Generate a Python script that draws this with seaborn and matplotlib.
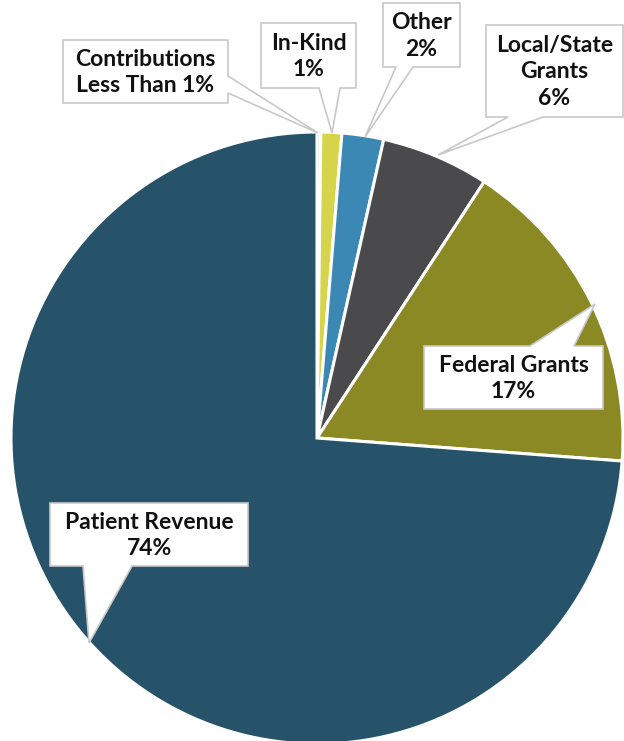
import matplotlib
matplotlib.use("Agg")
import matplotlib.pyplot as plt
import seaborn as sns
from matplotlib.patches import Polygon

categories = ["Contributions", "In-Kind", "Other", "Local/State\nGrants", "Federal Grants", "Patient Revenue"]
shares = [0.2, 1.1, 2.2, 5.7, 17.0, 73.8]
colors = ["#B9B9B9", "#D5D44A", "#3C88B5", "#4A4A4C", "#8B8923", "#27536A"]

sns.set_theme(style="white")
plt.rcParams["font.family"] = ["Lato", "DejaVu Sans"]

W, H = 624, 741
fig = plt.figure(figsize=(W / 100, H / 100), dpi=100)
ax = fig.add_axes([0, 0, 1, 1])


def fy(y):
    # image pixel row -> axis y (y up)
    return H - y


cx, cy, r = 317, 438, 306
ax.pie(shares, colors=colors, startangle=90, counterclock=False,
       center=(cx, fy(cy)), radius=r, frame=True,
       wedgeprops=dict(edgecolor="white", linewidth=2.2))
ax.set_xlim(0, W)
ax.set_ylim(0, H)
ax.set_aspect("equal")
ax.axis("off")

# callout boxes: (left, top, right, bottom), pointer points, side of pointer
callouts = [
    ((63, 40, 228, 103), [(228, 76), (318, 133), (228, 93)], "right"),
    ((261, 23, 356, 88), [(340, 88), (332, 133), (319, 88)], "bottom"),
    ((383, 3, 460, 67), [(413, 67), (365, 137), (396, 67)], "bottom"),
    ((486, 25, 623, 117), [(543, 117), (438, 155), (508, 117)], "bottom"),
    ((424, 346, 603, 409), [(530, 346), (595, 304), (574, 346)], "top"),
    ((50, 503, 248, 566), [(132, 566), (89, 643), (83, 566)], "bottom"),
]


def label_text(name, v):
    if v < 1:
        return f"{name}\nLess Than 1%"
    return f"{name}\n{round(v)}%"


for (box, ptr, side), name, v in zip(callouts, categories, shares):
    x0, y0, x1, y1 = box
    if side == "right":
        pts = [(x0, y0), (x1, y0)] + ptr + [(x1, y1), (x0, y1)]
    elif side == "bottom":
        pts = [(x0, y0), (x1, y0), (x1, y1)] + ptr + [(x0, y1)]
    else:
        pts = [(x0, y0)] + ptr + [(x1, y0), (x1, y1), (x0, y1)]
    poly = Polygon([(px, fy(py)) for px, py in pts], closed=True,
                   facecolor="white", edgecolor="#C8C8C8", linewidth=1.2, zorder=5)
    ax.add_patch(poly)
    ax.text((x0 + x1) / 2, fy((y0 + y1) / 2 + 1), label_text(name, v),
            ha="center", va="center", fontsize=16.5, fontweight="bold",
            color="#111111", linespacing=1.35, zorder=6)

fig.savefig("out.png", dpi=100)
